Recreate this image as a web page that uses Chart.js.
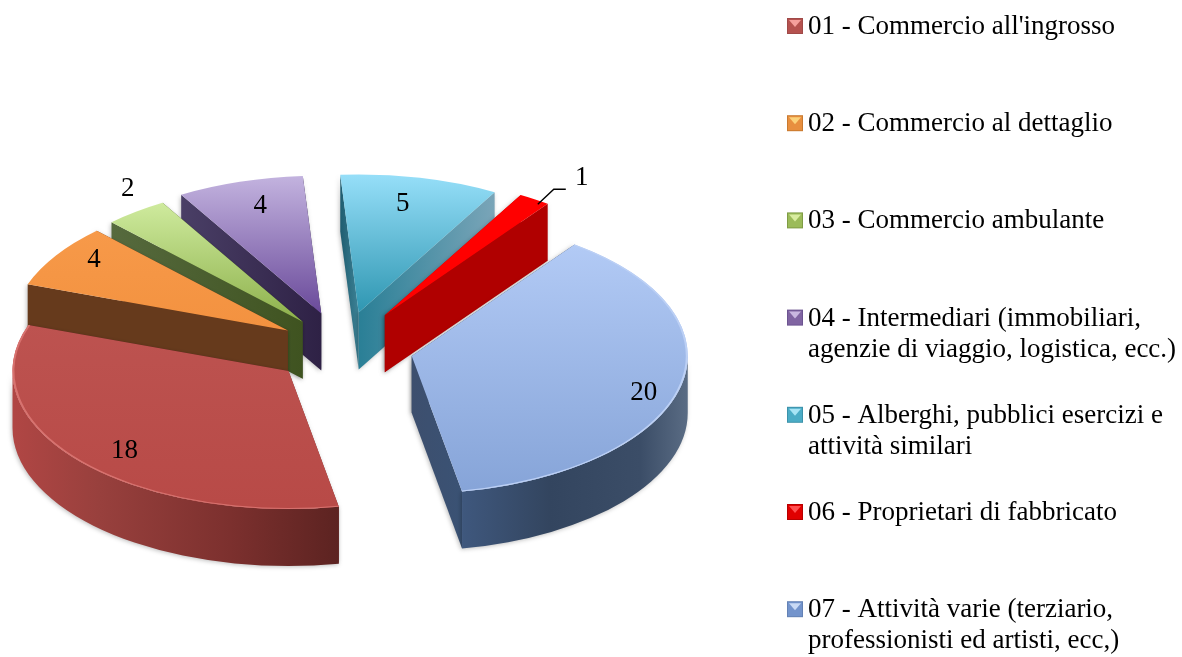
<!DOCTYPE html>
<html><head><meta charset="utf-8">
<style>html,body{margin:0;padding:0;background:#fff}#w{width:1182px;height:657px}</style>
<script src="https://cdn.jsdelivr.net/npm/chart.js@4"></script>
</head><body><div id="w"><canvas id="c" width="1182" height="657"></canvas></div>
<script>
const categories = [
  "01 - Commercio all'ingrosso",
  "02 - Commercio al dettaglio",
  "03 - Commercio ambulante",
  "04 - Intermediari (immobiliari,\nagenzie di viaggio, logistica, ecc.)",
  "05 - Alberghi, pubblici esercizi e\nattività similari",
  "06 - Proprietari di fabbricato",
  "07 - Attività varie (terziario,\nprofessionisti ed artisti, ecc,)"
];
const values = [18, 4, 2, 4, 5, 1, 20];

// styling
const FONT = '"Liberation Serif", serif';
const FONT_SIZE = 27;
const SQUASH = 0.5, DEPTH = 57, RADIUS = 276;
const explode = [71, 65, 66, 72, 73, 78, 71];
const topFill = [
  [320, 505, '#bd5350', '#b84a47'], [223, 327, '#f79a4a', '#f39240'],
  [202, 318, '#cfeb9e', '#8fb24e'], [177, 313, '#c2b2de', '#6a4a9a'],
  [176, 313, '#95def8', '#2e96b1'], [200, 318, '#ff0000', '#ff0000'],
  [246, 492, '#b2caf5', '#86a4d8']
];
// wall colours: start edge, end edge, outer rim stops
const wallStyle = [
  {s:'#7a2c2a', e:'#5a2220', o:[[14,'#b04644'],[100,'#98403d'],[230,'#7c302e'],[340,'#5c2321']]},
  {s:'#663a1c', e:'#663a1c'},
  {s:['#566a3e','#3f5320'], e:'#3f5320'},
  {s:['#4a3f66','#2e2145'], e:'#2e2145'},
  {s:['#1f5d70','#3d8296'], e:['#7aa5b8','#2a7f96']},
  {s:'#b00000', e:'#b00000'},
  {s:'#3a4c6b', e:['#3a5274','#3d4f6e'], o:[[460,'#3f587e'],[550,'#33455f'],[640,'#3b4d67'],[688,'#5a6c84']]}
];
const rimColor = ['#d8726f', null, null, null, null, null, '#bcd0f5'];
const labelShift = [[-164,80],[-194,-70],[-175,-133],[-61,-108],[44,-109],[197,-137],[232,37]];
const leader = [[153,-111],[169,-126],[181,-126]];
const LEADER_SLICE = 5;
const legendBox = [
  ['#b5524f','#f5a09c','#a04a48'],['#e88f3f','#fcd27a','#c97a30'],['#9bbb59','#d8ec9f','#7f9c45'],
  ['#8064a2','#c9b7e0','#6c5490'],['#4bacc6','#a8e4f5','#3c92aa'],['#e00000','#ff5050','#b80000'],
  ['#7394cc','#c9daf5','#6482b5']
];
const LEGEND_X = 787, LEGEND_Y = 27, LEGEND_PITCH = 97.2, LEGEND_LINE = 31, LEGEND_TEXT_X = 808;

function topGradient(c) {
  const chart = c.chart, area = chart.chartArea;
  const t = topFill[c.dataIndex];
  if (!area) return t[2];
  const cy = (area.top + area.bottom) / 2;
  const g = chart.ctx.createLinearGradient(0, cy + (t[0]-cy)/SQUASH, 0, cy + (t[1]-cy)/SQUASH);
  g.addColorStop(0, t[2]); g.addColorStop(1, t[3]);
  return g;
}

const pie3d = {
  id: 'pie3d',
  afterDatasetsUpdate(chart) {
    chart.getDatasetMeta(0).data.forEach((arc, i) => {
      const mid = (arc.startAngle + arc.endAngle) / 2;
      arc.x += Math.cos(mid) * explode[i];
      arc.y += Math.sin(mid) * explode[i];
    });
  },
  beforeDatasetsDraw(chart) {
    const ctx = chart.ctx, area = chart.chartArea;
    const cy = (area.top + area.bottom) / 2;
    const arcs = chart.getDatasetMeta(0).data.map((a, i) => ({a, i}));
    const sy = y => cy + (y - cy) * SQUASH;
    const depth = o => Math.sin((o.a.startAngle + o.a.endAngle) / 2);
    arcs.sort((p, q) => depth(p) - depth(q));
    ctx.save();
    ctx.shadowColor = 'rgba(0,0,0,0.25)'; ctx.shadowBlur = 4; ctx.shadowOffsetX = -1; ctx.shadowOffsetY = 1;
    arcs.forEach(({a, i}) => {
      const ax = a.x, ay = sy(a.y), r = a.outerRadius, b = r * SQUASH, st = wallStyle[i];
      const edge = (ang, col) => {
        const ex = ax + r * Math.cos(ang), ey = ay + b * Math.sin(ang);
        let fill = col;
        if (Array.isArray(col)) {
          fill = ctx.createLinearGradient(ex, 0, ax, 0);
          fill.addColorStop(0, col[0]); fill.addColorStop(1, col[1]);
        }
        ctx.fillStyle = fill;
        ctx.beginPath();
        ctx.moveTo(ax, ay); ctx.lineTo(ex, ey); ctx.lineTo(ex, ey + DEPTH); ctx.lineTo(ax, ay + DEPTH);
        ctx.closePath(); ctx.fill();
      };
      // the wall whose rim end is nearer the viewer goes on top
      if (Math.sin(a.startAngle) > Math.sin(a.endAngle)) {
        edge(a.endAngle, st.e); edge(a.startAngle, st.s);
      } else {
        edge(a.startAngle, st.s); edge(a.endAngle, st.e);
      }
      if (st.o) {
        const TAU = Math.PI * 2;
        [-TAU, 0, TAU].forEach(shift => {
          const from = Math.max(a.startAngle + shift, 0), to = Math.min(a.endAngle + shift, Math.PI);
          if (to <= from) return;
          const x0 = st.o[0][0], x1 = st.o[st.o.length-1][0];
          const g = ctx.createLinearGradient(x0, 0, x1, 0);
          st.o.forEach(s => g.addColorStop((s[0]-x0)/(x1-x0), s[1]));
          ctx.fillStyle = g;
          ctx.beginPath();
          ctx.ellipse(ax, ay, r, b, 0, from, to);
          ctx.ellipse(ax, ay + DEPTH, r, b, 0, to, from, true);
          ctx.closePath(); ctx.fill();
        });
      }
    });
    ctx.restore();
    ctx.save();
    ctx.translate(0, cy); ctx.scale(1, SQUASH); ctx.translate(0, -cy);
  },
  afterDatasetsDraw(chart) {
    const ctx = chart.ctx;
    const meta = chart.getDatasetMeta(0).data;
    meta.forEach((a, i) => {
      if (!rimColor[i]) return;
      ctx.strokeStyle = rimColor[i]; ctx.lineWidth = 2;
      ctx.beginPath(); ctx.arc(a.x, a.y, a.outerRadius - 1, a.startAngle, a.endAngle); ctx.stroke();
    });
    ctx.restore();
  },
  afterDraw(chart) {
    const ctx = chart.ctx, area = chart.chartArea;
    const cy = (area.top + area.bottom) / 2;
    const meta = chart.getDatasetMeta(0).data;
    ctx.save();
    ctx.fillStyle = '#000';
    ctx.font = FONT_SIZE + 'px ' + FONT;
    ctx.textBaseline = 'middle';
    ctx.textAlign = 'center';
    meta.forEach((a, i) => {
      const ay = cy + (a.y - cy) * SQUASH;
      ctx.fillText(String(values[i]), a.x + labelShift[i][0], ay + labelShift[i][1]);
    });
    // leader line
    const la = meta[LEADER_SLICE], lay = cy + (la.y - cy) * SQUASH;
    ctx.strokeStyle = '#000'; ctx.lineWidth = 1.4;
    ctx.beginPath();
    leader.forEach((p, n) => n ? ctx.lineTo(la.x + p[0], lay + p[1]) : ctx.moveTo(la.x + p[0], lay + p[1]));
    ctx.stroke();
    // legend
    ctx.textAlign = 'left';
    categories.forEach((txt, i) => {
      const y = LEGEND_Y + i * LEGEND_PITCH, s = 16, x = LEGEND_X, t = y - 9, c = legendBox[i];
      ctx.fillStyle = c[2]; ctx.fillRect(x, t, s, s);
      ctx.fillStyle = c[0]; ctx.fillRect(x + 1, t + 1, s - 2, s - 2);
      ctx.fillStyle = c[1];
      ctx.beginPath(); ctx.moveTo(x + 2, t + 2); ctx.lineTo(x + s - 2, t + 2); ctx.lineTo(x + s/2, t + s/2 + 1); ctx.closePath(); ctx.fill();
      ctx.fillStyle = '#000';
      txt.split('\n').forEach((ln, n) => ctx.fillText(ln, LEGEND_TEXT_X, y + n * LEGEND_LINE));
    });
    ctx.restore();
  }
};

new Chart(document.getElementById('c'), {
  type: 'pie',
  data: {
    labels: categories.map(s => s.replace('\n', ' ')),
    datasets: [{
      data: values,
      backgroundColor: topGradient,
      borderWidth: 0,
      hoverOffset: 0,
      radius: RADIUS,
      clip: false
    }]
  },
  options: {
    responsive: false,
    animation: false,
    rotation: 169.5,
    layout: { padding: { top: 39, right: 497, bottom: 0, left: 0 } },
    plugins: { legend: { display: false }, tooltip: { enabled: false } }
  },
  plugins: [pie3d]
});
</script>
</body></html>
